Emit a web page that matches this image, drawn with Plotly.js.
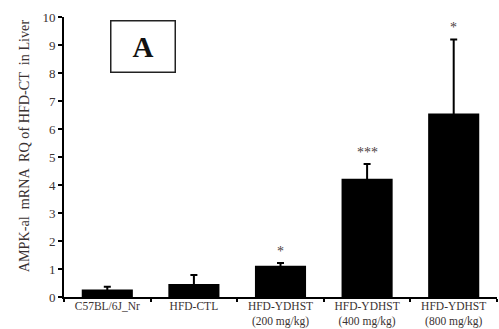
<!DOCTYPE html>
<html><head><meta charset="utf-8">
<script src="https://cdn.plot.ly/plotly-3.0.1.min.js"></script>
<style>html,body{margin:0;padding:0;background:#fff}</style>
</head><body>
<div id="chart" style="width:499px;height:329px"></div>
<script>
var categories = ["C57BL/6J_Nr", "HFD-CTL", "HFD-YDHST<br>(200 mg/kg)", "HFD-YDHST<br>(400 mg/kg)", "HFD-YDHST<br>(800 mg/kg)"];
var values = [0.27, 0.46, 1.12, 4.22, 6.55];
var errors = [0.10, 0.33, 0.09, 0.53, 2.65];
var marks = ["", "", "*", "***", "*"];
var yTitle = "AMPK-al  mRNA  RQ of HFD-CT  in Liver";
var panelLabel = "A";

var txtColor = "#3a3232";
var serif = "Liberation Serif, Times New Roman, serif";

var annotations = [];
for (var i = 0; i < categories.length; i++) {
  if (marks[i]) {
    annotations.push({
      x: categories[i], y: values[i] + errors[i], xref: "x", yref: "y",
      text: marks[i], showarrow: false, yanchor: "bottom", yshift: 2,
      font: {family: serif, size: 14, color: "#4a4040"}
    });
  }
}
annotations.push({
  x: 0.182, y: 0.893, xref: "paper", yref: "paper",
  text: "<b>" + panelLabel + "</b>", showarrow: false, xanchor: "center", yanchor: "middle",
  width: 63, height: 50, bordercolor: "#222", borderwidth: 1.5, borderpad: 0,
  font: {family: serif, size: 29, color: "#111"}
});
annotations.push({
  x: -0.093, y: 0.541, xref: "paper", yref: "paper",
  text: yTitle, textangle: -90, showarrow: false, xanchor: "center", yanchor: "middle",
  font: {family: serif, size: 14.2, color: txtColor}
});

var trace = {
  type: "bar", x: categories, y: values,
  marker: {color: "#000", line: {width: 0}},
  width: 0.59,
  error_y: {type: "data", array: errors, symmetric: true, color: "#000", thickness: 2, width: 3.5}
};

var layout = {
  width: 499, height: 329,
  margin: {l: 64, r: 2, t: 17, b: 32},
  paper_bgcolor: "#fff", plot_bgcolor: "#fff",
  showlegend: false,
  font: {family: serif, color: txtColor},
  xaxis: {
    type: "category", showline: true, linecolor: "#000", linewidth: 2,
    ticks: "outside", tickson: "boundaries", ticklen: 3, tickwidth: 2, tickcolor: "#000",
    ticklabelstandoff: -3,
    tickfont: {family: serif, size: 11.5, color: txtColor},
    showgrid: false, zeroline: false, automargin: false
  },
  yaxis: {
    range: [0, 10], dtick: 1, showline: true, linecolor: "#000", linewidth: 2,
    ticks: "outside", ticklen: 4, tickwidth: 2, tickcolor: "#000",
    tickfont: {family: serif, size: 13, color: txtColor},
    showgrid: false, zeroline: false, automargin: false
  },
  annotations: annotations
};

Plotly.newPlot("chart", [trace], layout, {displayModeBar: false, staticPlot: true});
</script>
</body></html>
